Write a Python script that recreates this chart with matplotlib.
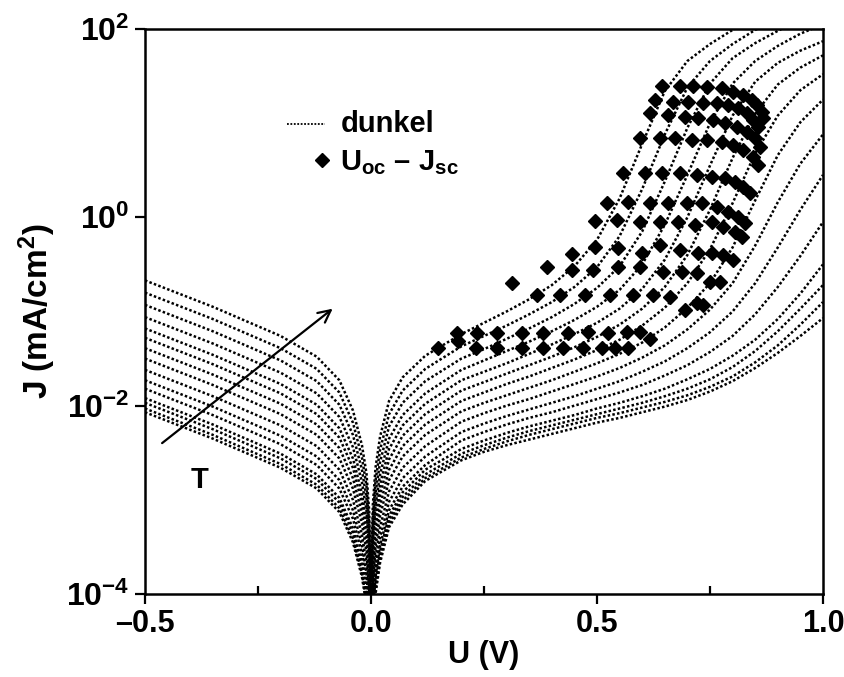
import numpy as np
import matplotlib
matplotlib.use("Agg")
import matplotlib.pyplot as plt
from matplotlib.ticker import FixedLocator, FuncFormatter

plt.rcParams['font.family'] = ['Liberation Sans', 'DejaVu Sans']
plt.rcParams['font.weight'] = 'bold'
plt.rcParams['mathtext.fontset'] = 'custom'
plt.rcParams['mathtext.rm'] = 'Liberation Sans:bold'
plt.rcParams['mathtext.bf'] = 'Liberation Sans:bold'
plt.rcParams['mathtext.it'] = 'Liberation Sans:bold'

# voltage grid of the dark curves (V)
u_rev = [-0.5, -0.35, -0.2, -0.12, -0.07, -0.04, -0.02, -0.01, -0.004, -0.001]
u_fwd = [0.001, 0.004, 0.01, 0.02, 0.04, 0.07, 0.12, 0.2, 0.25, 0.3, 0.35,
         0.4, 0.45, 0.5, 0.55, 0.6, 0.65, 0.7, 0.75, 0.8, 0.85, 0.9, 0.95, 1.0]

# log10 of dark current density (mA/cm2), highest temperature first
log_j_rev = [
    [-0.67, -0.95, -1.26, -1.48, -1.73, -2.05, -2.42, -2.72, -3.12, -3.72],
    [-0.80, -1.08, -1.39, -1.61, -1.86, -2.18, -2.55, -2.85, -3.25, -3.85],
    [-0.93, -1.21, -1.52, -1.74, -1.99, -2.31, -2.68, -2.98, -3.38, -3.98],
    [-1.06, -1.34, -1.65, -1.87, -2.12, -2.44, -2.81, -3.11, -3.51, -4.11],
    [-1.18, -1.46, -1.77, -1.99, -2.24, -2.56, -2.93, -3.23, -3.63, -4.23],
    [-1.28, -1.56, -1.87, -2.09, -2.34, -2.66, -3.03, -3.33, -3.73, -4.33],
    [-1.39, -1.67, -1.98, -2.20, -2.45, -2.77, -3.14, -3.44, -3.84, -4.44],
    [-1.50, -1.78, -2.09, -2.31, -2.56, -2.88, -3.25, -3.55, -3.95, -4.55],
    [-1.62, -1.90, -2.21, -2.43, -2.68, -3.00, -3.37, -3.67, -4.07, -4.67],
    [-1.73, -2.01, -2.32, -2.54, -2.79, -3.11, -3.48, -3.78, -4.18, -4.78],
    [-1.82, -2.10, -2.41, -2.63, -2.88, -3.20, -3.57, -3.87, -4.27, -4.87],
    [-1.92, -2.20, -2.51, -2.73, -2.98, -3.30, -3.67, -3.97, -4.37, -4.97],
    [-1.97, -2.25, -2.56, -2.78, -3.03, -3.35, -3.72, -4.02, -4.42, -5.02],
    [-2.03, -2.31, -2.62, -2.84, -3.09, -3.41, -3.78, -4.08, -4.48, -5.08],
    [-2.07, -2.35, -2.66, -2.88, -3.13, -3.45, -3.82, -4.12, -4.52, -5.12],
]

log_j_fwd = [
    [-3.66, -3.06, -2.66, -2.33, -1.95, -1.70, -1.47, -1.24, -1.12, -1.00, -0.87,
     -0.72, -0.52, -0.24, 0.20, 0.78, 1.34, 1.66, 1.84, 1.99, 2.10, 2.20, 2.30, 2.40],
    [-3.80, -3.20, -2.80, -2.47, -2.09, -1.84, -1.61, -1.37, -1.26, -1.15, -1.03,
     -0.90, -0.74, -0.53, -0.20, 0.30, 0.88, 1.38, 1.66, 1.84, 1.99, 2.10, 2.20, 2.30],
    [-3.93, -3.33, -2.93, -2.60, -2.22, -1.97, -1.74, -1.50, -1.40, -1.29, -1.18,
     -1.06, -0.92, -0.75, -0.52, -0.15, 0.38, 0.95, 1.42, 1.69, 1.85, 1.98, 2.10, 2.20],
    [-4.06, -3.46, -3.06, -2.73, -2.35, -2.10, -1.87, -1.62, -1.52, -1.42, -1.32,
     -1.21, -1.09, -0.95, -0.77, -0.50, -0.08, 0.45, 1.00, 1.42, 1.66, 1.82, 1.95, 2.05],
    [-4.17, -3.57, -3.17, -2.84, -2.46, -2.21, -1.98, -1.73, -1.64, -1.55, -1.45,
     -1.35, -1.24, -1.12, -0.97, -0.76, -0.45, 0.00, 0.55, 1.08, 1.44, 1.64, 1.77, 1.87],
    [-4.28, -3.68, -3.28, -2.95, -2.57, -2.32, -2.09, -1.84, -1.75, -1.66, -1.57,
     -1.48, -1.38, -1.27, -1.14, -0.97, -0.74, -0.40, 0.08, 0.63, 1.10, 1.41, 1.59, 1.72],
    [-4.39, -3.79, -3.39, -3.06, -2.68, -2.43, -2.20, -1.95, -1.86, -1.77, -1.69,
     -1.60, -1.51, -1.41, -1.30, -1.15, -0.96, -0.70, -0.34, 0.15, 0.68, 1.08, 1.35, 1.52],
    [-4.50, -3.90, -3.50, -3.17, -2.79, -2.54, -2.31, -2.06, -1.97, -1.89, -1.81,
     -1.73, -1.64, -1.55, -1.45, -1.33, -1.17, -0.96, -0.70, -0.32, 0.18, 0.66, 1.01, 1.25],
    [-4.62, -4.02, -3.62, -3.29, -2.91, -2.66, -2.43, -2.17, -2.08, -2.00, -1.93,
     -1.85, -1.77, -1.69, -1.60, -1.49, -1.36, -1.19, -0.98, -0.70, -0.30, 0.16, 0.57, 0.88],
    [-4.73, -4.13, -3.73, -3.40, -3.02, -2.77, -2.54, -2.28, -2.19, -2.11, -2.04,
     -1.97, -1.90, -1.82, -1.74, -1.64, -1.53, -1.39, -1.22, -1.00, -0.70, -0.32, 0.08, 0.45],
    [-4.82, -4.22, -3.82, -3.49, -3.11, -2.86, -2.63, -2.37, -2.28, -2.20, -2.13,
     -2.07, -2.00, -1.93, -1.86, -1.78, -1.68, -1.57, -1.43, -1.26, -1.03, -0.74, -0.41, -0.05],
    [-4.88, -4.28, -3.88, -3.55, -3.17, -2.92, -2.68, -2.46, -2.37, -2.29, -2.22,
     -2.16, -2.10, -2.03, -1.97, -1.90, -1.82, -1.72, -1.61, -1.47, -1.30, -1.08, -0.81, -0.50],
    [-4.92, -4.32, -3.92, -3.59, -3.21, -2.97, -2.73, -2.51, -2.42, -2.34, -2.27,
     -2.21, -2.15, -2.09, -2.03, -1.97, -1.90, -1.82, -1.72, -1.59, -1.42, -1.21, -0.97, -0.72],
    [-4.96, -4.36, -3.96, -3.63, -3.25, -3.01, -2.77, -2.55, -2.46, -2.38, -2.31,
     -2.25, -2.19, -2.13, -2.08, -2.02, -1.96, -1.89, -1.80, -1.69, -1.54, -1.36, -1.14, -0.90],
    [-5.00, -4.40, -4.00, -3.67, -3.29, -3.05, -2.80, -2.58, -2.49, -2.42, -2.36,
     -2.30, -2.24, -2.18, -2.13, -2.07, -2.01, -1.94, -1.85, -1.74, -1.60, -1.44, -1.26, -1.07],
]

# open-circuit voltage (V) and log10 short-circuit current density (mA/cm2)
u_oc = [
    0.148, 0.232, 0.279, 0.334, 0.381, 0.425, 0.469, 0.511, 0.540, 0.569,
    0.190, 0.192, 0.235, 0.279, 0.334, 0.381, 0.436, 0.480, 0.524, 0.566, 0.595, 0.617,
    0.312, 0.389,
    0.367, 0.418, 0.473, 0.529, 0.580, 0.624, 0.662, 0.695, 0.721, 0.735,
    0.445, 0.491, 0.546, 0.595, 0.646, 0.688, 0.721, 0.750, 0.772,
    0.445, 0.496, 0.546, 0.600, 0.639, 0.684, 0.723, 0.754, 0.779, 0.801,
    0.496, 0.544, 0.595, 0.639, 0.679, 0.717, 0.754, 0.779, 0.805, 0.821,
    0.522, 0.569, 0.617, 0.657, 0.699, 0.732, 0.765, 0.790, 0.812, 0.827,
    0.558, 0.606, 0.644, 0.684, 0.721, 0.754, 0.783, 0.805, 0.823, 0.838,
    0.595, 0.639, 0.673, 0.710, 0.743, 0.777, 0.801, 0.823, 0.845, 0.856,
    0.617, 0.657, 0.695, 0.723, 0.757, 0.783, 0.810, 0.832, 0.850, 0.861,
    0.628, 0.668, 0.701, 0.735, 0.765, 0.790, 0.812, 0.832, 0.845, 0.856,
    0.644, 0.684, 0.712, 0.743, 0.777, 0.801, 0.823, 0.843, 0.854, 0.865, 0.867,
]
log_j_sc = [
    -1.387, -1.387, -1.387, -1.387, -1.387, -1.387, -1.387, -1.387, -1.387, -1.387,
    -1.228, -1.313, -1.228, -1.228, -1.228, -1.228, -1.228, -1.218, -1.228, -1.218, -1.218, -1.292,
    -0.697, -0.527,
    -0.825, -0.825, -0.825, -0.825, -0.825, -0.825, -0.846, -0.984, -0.910, -0.931,
    -0.559, -0.559, -0.527, -0.527, -0.580, -0.580, -0.591, -0.687, -0.687,
    -0.389, -0.315, -0.326, -0.379, -0.294, -0.347, -0.379, -0.379, -0.400, -0.453,
    -0.039, -0.028, -0.049, -0.049, -0.049, -0.081, -0.049, -0.103, -0.156, -0.209,
    0.152, 0.163, 0.152, 0.152, 0.152, 0.152, 0.110, 0.057, 0.004, -0.060,
    0.471, 0.471, 0.471, 0.471, 0.450, 0.428, 0.418, 0.375, 0.322, 0.258,
    0.843, 0.843, 0.843, 0.821, 0.821, 0.800, 0.768, 0.715, 0.641, 0.556,
    1.108, 1.087, 1.066, 1.055, 1.034, 1.002, 0.959, 0.906, 0.843, 0.747,
    1.246, 1.225, 1.225, 1.214, 1.214, 1.193, 1.161, 1.108, 1.034, 0.959,
    1.395, 1.395, 1.395, 1.384, 1.373, 1.331, 1.299, 1.246, 1.193, 1.119, 1.055,
]

x_ticks = [-0.5, 0.0, 0.5, 1.0]
x_minor = [-0.25, 0.25, 0.75]
y_ticks = [1e-4, 1e-2, 1e0, 1e2]

fig = plt.figure(figsize=(8.44, 6.77), dpi=100)
ax = fig.add_axes([0.1718, 0.1226, 0.8033, 0.8346])

u_all = np.array(u_rev + u_fwd)
for rev, fwd in zip(log_j_rev, log_j_fwd):
    j = 10.0 ** np.array(rev + fwd)
    ax.plot(u_all, j, color='black', lw=1.8, ls=(0, (1, 0.9)))

ax.plot(u_oc, 10.0 ** np.array(log_j_sc), ls='none', marker='D',
        ms=6.8, color='black', mec='black')

ax.set_yscale('log')
ax.set_xlim(-0.5, 1.0)
ax.set_ylim(1e-4, 1e2)

ax.xaxis.set_major_locator(FixedLocator(x_ticks))
ax.xaxis.set_minor_locator(FixedLocator(x_minor))
ax.xaxis.set_major_formatter(FuncFormatter(lambda v, p: f"{v:.1f}".replace('-', '\u2013')))
ax.yaxis.set_major_locator(FixedLocator(y_ticks))
ax.yaxis.set_minor_locator(FixedLocator([]))
ax.yaxis.set_major_formatter(FuncFormatter(
    lambda v, p: r'$\mathbf{10^{%d}}$' % int(round(np.log10(v)))))

ax.tick_params(axis='both', which='major', direction='out', length=7, width=1.6,
               labelsize=23)
ax.tick_params(axis='x', which='major', pad=4, labelsize=22)
ax.tick_params(axis='y', which='major', pad=4)
ax.tick_params(axis='x', which='minor', direction='in', length=6, width=1.6)
for s in ax.spines.values():
    s.set_linewidth(1.8)

ax.set_xlabel('U (V)', fontsize=22, fontweight='bold')
ax.xaxis.set_label_coords(0.5, -0.082)
ax.set_ylabel(r'J (mA/cm$^\mathbf{2}$)', fontsize=24, fontweight='bold', labelpad=6)

# legend
ax.plot([0.209, 0.265], [0.832, 0.832], transform=ax.transAxes,
        color='black', lw=1.3, ls=(0, (1, 0.9)))
ax.text(0.288, 0.832, 'dunkel', transform=ax.transAxes, fontsize=21,
        fontweight='bold', va='center', ha='left')
ax.plot([0.261], [0.768], transform=ax.transAxes, marker='D', ms=6.8,
        color='black', ls='none')
ax.text(0.288, 0.764, 'U$_\\mathbf{oc}$ \u2013 J$_\\mathbf{sc}$',
        transform=ax.transAxes, fontsize=21, fontweight='bold', va='center', ha='left')

# temperature arrow
ax.annotate('', xy=(0.280, 0.508), xytext=(0.022, 0.264), xycoords='axes fraction',
            arrowprops=dict(arrowstyle='->', lw=1.6, color='black',
                            mutation_scale=22))
ax.text(0.081, 0.202, 'T', transform=ax.transAxes, fontsize=21,
        fontweight='bold', va='center', ha='center')

fig.savefig('out.png', dpi=100)
